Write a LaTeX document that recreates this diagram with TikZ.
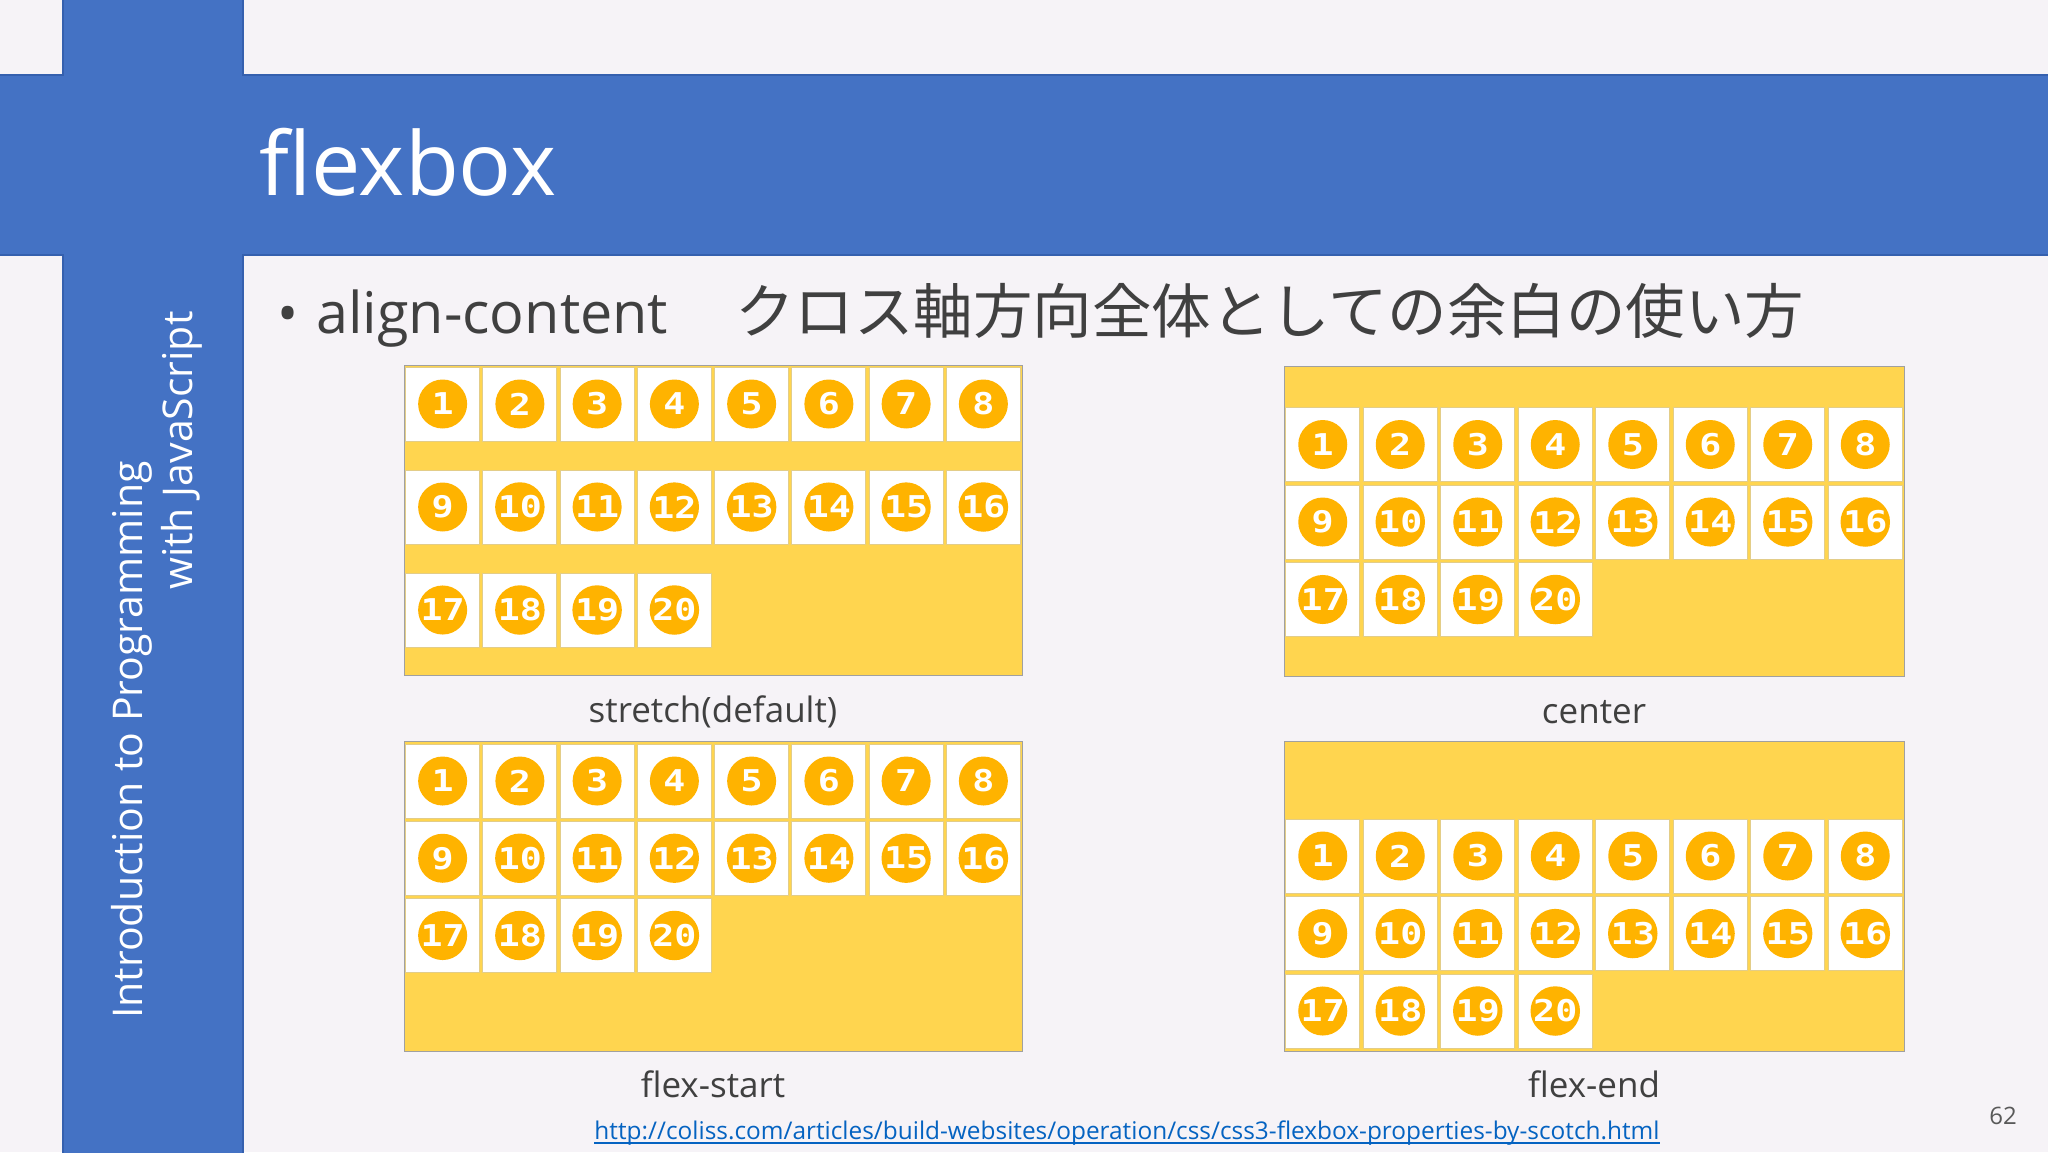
\documentclass[tikz,border=0pt]{standalone}
\usepackage{fontspec}
\usepackage{graphicx}
\setmainfont{Open Sans}
\newfontfamily\cjk{Noto Sans CJK JP}
\newfontfamily\numfont{DejaVu Sans Mono}
\definecolor{bgc}{HTML}{F6F3F7}
\definecolor{slideblue}{HTML}{4472C4}
\definecolor{blueedge}{HTML}{3560AE}
\definecolor{boxyellow}{HTML}{FFD54F}
\definecolor{ballorange}{HTML}{FFB300}
\definecolor{itemedge}{HTML}{E3CD88}
\definecolor{boxgray}{HTML}{A0A0A0}
\definecolor{textgray}{HTML}{404040}
\definecolor{urlblue}{HTML}{0563C1}
\definecolor{pagegray}{HTML}{595959}
\newcommand\flexgrid[5]{%
  \foreach \n in {1,...,20}{%
    \pgfmathtruncatemacro\gR{int((\n-0.5)/8)}%
    \pgfmathtruncatemacro\gC{mod(\n-1,8)}%
    \pgfmathsetmacro\gX{#2+(\gC+0.5)*#4}%
    \pgfmathsetmacro\gY{#3+\gR*#5}%
    \node[itembox] (#1-\n) at (\gX,\gY) {};
    \node[ball] (#1-b\n) at (#1-\n.center) {\scalebox{1.22}[1]{\n}};
  }%
}
\begin{document}
\begin{tikzpicture}[x=1pt,y=-1pt,
  ybox/.style={draw=boxgray, line width=1.2pt, fill=boxyellow, minimum width=618pt,
    minimum height=310pt, anchor=north west, inner sep=0pt},
  itembox/.style={draw=itemedge, line width=1pt, fill=white, minimum width=74pt,
    minimum height=74pt, inner sep=0pt},
  ball/.style={circle, fill=ballorange, minimum size=49pt, inner sep=0pt, text=white,
    font=\numfont\bfseries\fontsize{30}{30}\selectfont},
  lbl/.style={anchor=base, text=textgray, font=\fontsize{35}{35}\selectfont, inner sep=0pt},
]
\useasboundingbox (0,0) rectangle (2048,1152);
\fill[bgc] (0,0) rectangle (2048,1152);
% blue cross
\filldraw[fill=slideblue, draw=blueedge, line width=2pt]
  (63,-5) -- (63,75) -- (-5,75) -- (-5,255) -- (63,255) -- (63,1160) -- (243,1160)
  -- (243,255) -- (2055,255) -- (2055,75) -- (243,75) -- (243,-5) -- cycle;
% title
\node[anchor=base west, inner sep=0pt, text=white, font=\fontsize{88}{88}\selectfont]
  (title) at (259,195) {flexbox};
% side text
\node[rotate=90, anchor=base west, inner sep=0pt, text=white, font=\fontsize{41}{41}\selectfont]
  (side1) at (142,1019) {Introduction to Programming};
\node[rotate=90, anchor=base west, inner sep=0pt, text=white, font=\fontsize{41}{41}\selectfont]
  (side2) at (192,590) {with JavaScript};
% bullet line
\node[anchor=base, inner sep=0pt, text=textgray, font=\fontsize{56}{56}\selectfont]
  (bullet) at (288,333) {•};
\node[anchor=base west, inner sep=0pt, text=textgray, font=\fontsize{57.5}{57.5}\selectfont]
  (prop) at (316,333) {align-content};
\node[anchor=base west, inner sep=0pt, text=textgray, font=\cjk\fontsize{59.5}{59.5}\selectfont]
  (desc) at (735,333) {クロス軸方向全体としての余白の使い方};
% boxes
\node[ybox] (tl) at (404,365) {};
\node[ybox, minimum width=620pt] (tr) at (1284,366) {};
\node[ybox] (bl) at (404,741) {};
\node[ybox, minimum width=620pt] (br) at (1284,741) {};
\flexgrid{tl}{404}{404}{77.25}{103}
\flexgrid{tr}{1284}{444.5}{77.5}{77.5}
\flexgrid{bl}{404}{781}{77.25}{77.25}
\flexgrid{br}{1284}{856}{77.5}{77.5}
% labels
\node[lbl] (l1) at (713,722) {stretch(default)};
\node[lbl] (l2) at (1594,723) {center};
\node[lbl] (l3) at (713,1097) {flex-start};
\node[lbl] (l4) at (1594,1097) {flex-end};
% url
\node[anchor=base, inner sep=0pt, text=urlblue, font=\fontsize{24.4}{24.4}\selectfont]
  (url) at (1127,1139) {http://coliss.com/articles/build-websites/operation/css/css3-flexbox-properties-by-scotch.html};
\draw[urlblue, line width=1.3pt] ([yshift=-4pt]url.base west) -- ([yshift=-4pt]url.base east);
% page number
\node[anchor=base, inner sep=0pt, text=pagegray, font=\fontsize{24}{24}\selectfont]
  (pg) at (2003,1124) {62};
\end{tikzpicture}
\end{document}
